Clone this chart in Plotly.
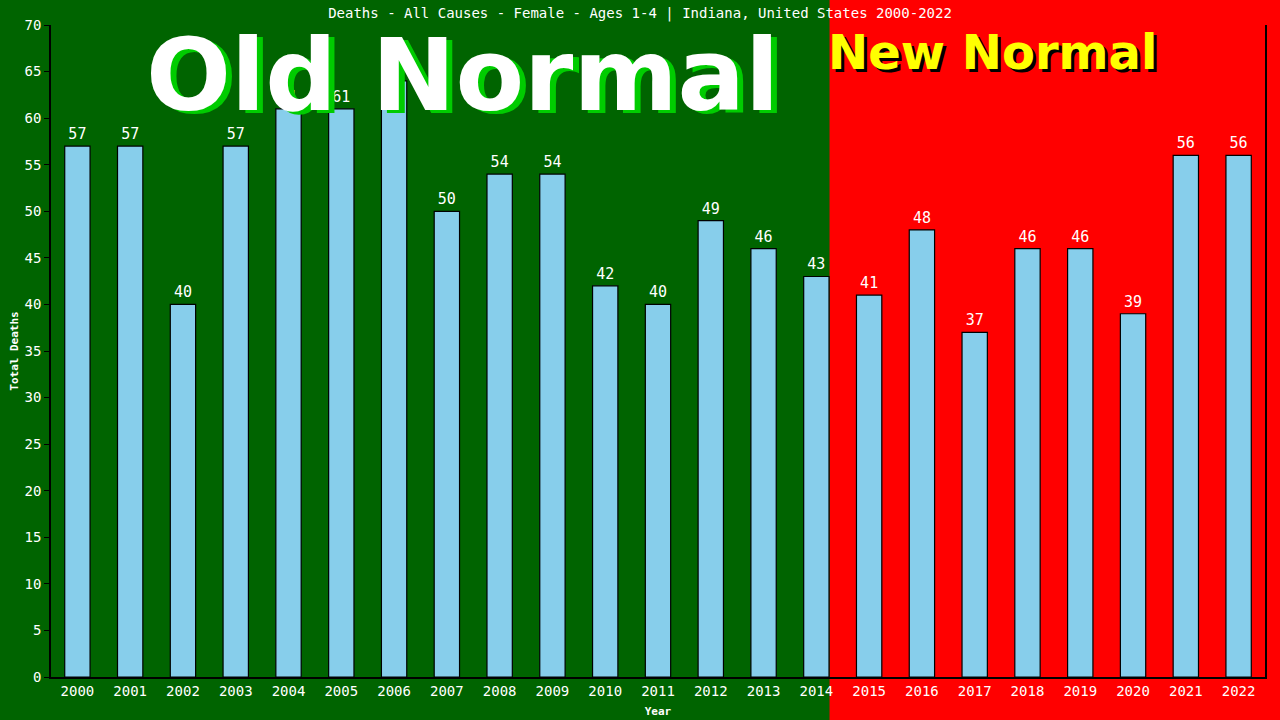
import plotly.graph_objects as go

years = list(range(2000, 2023))
deaths = [57, 57, 40, 57, 61, 61, 64, 50, 54, 54, 42, 40, 49, 46, 43,
          41, 48, 37, 46, 46, 39, 56, 56]
title_text = "Deaths - All Causes - Female - Ages 1-4 | Indiana, United States 2000-2022"
split_year = 2014.25

W, H = 1280, 720
ml, mr, mt, mb = 51, 15, 25, 43
pw, ph = W - ml - mr, H - mt - mb
xmin, xmax = 1999.5, 2022.5

def px_x(px):
    return (px - ml) / pw

def px_y(py):
    return (H - mb - py) / ph

mono = "DejaVu Sans Mono"

fig = go.Figure()
fig.add_trace(go.Bar(
    x=years, y=deaths, width=0.48,
    marker=dict(color="#87CEEB", line=dict(color="black", width=1.2)),
    text=[str(v) for v in deaths], textposition="outside",
    textfont=dict(color="white", family=mono, size=15),
    cliponaxis=False,
))

split_paper = (split_year - xmin) / (xmax - xmin)
fig.add_shape(type="rect", xref="paper", yref="paper",
              x0=split_paper, x1=1.5, y0=-0.5, y1=1.5,
              fillcolor="#FF0000", line=dict(width=0), layer="below")

# Old Normal with green shadow
cx, cy = px_x(462), px_y(75)
for dx, dy, col in [(6, -3, "#00CC00"), (0, 0, "white")]:
    fig.add_annotation(xref="paper", yref="paper", x=cx, y=cy, xshift=dx, yshift=dy,
                       xanchor="center", yanchor="middle",
                       text="<b>Old Normal</b>", showarrow=False,
                       font=dict(family="DejaVu Sans", size=100, color=col))
# New Normal with black shadow
nx, ny = px_x(992.5), px_y(51.5)
for dx, dy, col in [(3, -3, "black"), (0, 0, "#FFFF00")]:
    fig.add_annotation(xref="paper", yref="paper", x=nx, y=ny, xshift=dx, yshift=dy,
                       xanchor="center", yanchor="middle",
                       text="<b>New Normal</b>", showarrow=False,
                       font=dict(family="DejaVu Sans", size=48, color=col))

fig.update_layout(
    width=W, height=H,
    margin=dict(l=ml, r=mr, t=mt, b=mb, pad=0),
    paper_bgcolor="#006400", plot_bgcolor="rgba(0,0,0,0)",
    showlegend=False,
    title=dict(text=title_text, x=0.5, xanchor="center", y=1 - 13 / H, yanchor="middle",
               font=dict(family=mono, size=14, color="white")),
    bargap=0.52,
)
fig.update_xaxes(range=[xmin, xmax], tickvals=years, ticktext=[str(y) for y in years],
                 showgrid=False, zeroline=False, showline=True, linecolor="black",
                 linewidth=1.5, ticks="", automargin=False,
                 tickfont=dict(family=mono, size=14, color="white"),
                 title=dict(text="<b>Year</b>", font=dict(family=mono, size=11, color="white"),
                            standoff=10))
fig.update_yaxes(range=[0, 70], dtick=5, showgrid=False, zeroline=False,
                 showline=True, mirror=True, linecolor="black", linewidth=1.5,
                 ticks="outside", ticklen=5, tickcolor="black", automargin=False,
                 tickfont=dict(family=mono, size=14, color="white"),
                 title=dict(text="<b>Total Deaths</b>", font=dict(family=mono, size=11, color="white"),
                            standoff=4))

fig.write_html("out.html", config={"displayModeBar": False},
               post_script="document.body.style.margin='0';")
